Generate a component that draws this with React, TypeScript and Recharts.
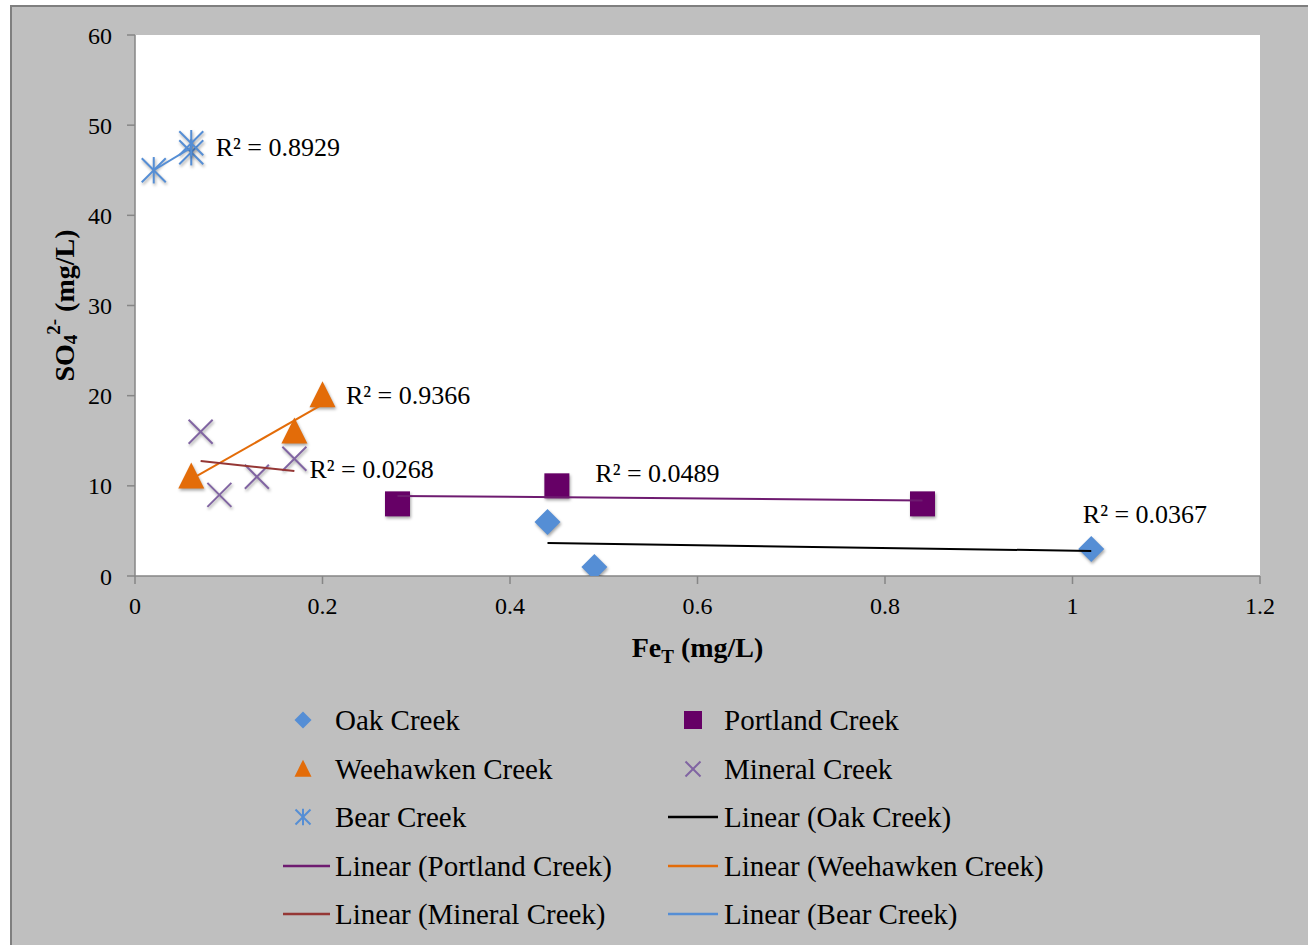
import React from 'react';
import { ScatterChart, Scatter, XAxis, YAxis, CartesianGrid, Legend, Label } from 'recharts';

// Total iron vs. sulfate, one series per creek
const oakFe = [0.44, 0.49, 1.02];
const oakSO4 = [6, 1, 3];
const portlandFe = [0.28, 0.45, 0.84];
const portlandSO4 = [8, 10, 8];
const weehawkenFe = [0.06, 0.17, 0.2];
const weehawkenSO4 = [11, 16, 20];
const mineralFe = [0.07, 0.09, 0.13, 0.17];
const mineralSO4 = [16, 9, 11, 13];
const bearFe = [0.02, 0.06, 0.06];
const bearSO4 = [45, 47, 48];

const creekNames = ['Oak Creek', 'Portland Creek', 'Weehawken Creek', 'Mineral Creek', 'Bear Creek'];

const xTicks = [0, 0.2, 0.4, 0.6, 0.8, 1, 1.2];
const yTicks = [0, 10, 20, 30, 40, 50, 60];

// Where each R² annotation sits, in axis units (Oak, Portland, Weehawken, Mineral, Bear)
const r2AtFe = [1.011, 0.491, 0.225, 0.186, 0.086];
const r2AtSO4 = [6.8, 11.4, 20, 11.8, 47.5];

const FONT = "'Liberation Serif', 'Times New Roman', serif";

type MarkerKind = 'diamond' | 'square' | 'triangle' | 'cross' | 'star';

const styles: { marker: MarkerKind; color: string; trend: string }[] = [
  { marker: 'diamond', color: '#558ED5', trend: '#000000' },
  { marker: 'square', color: '#660066', trend: '#6E1B70' },
  { marker: 'triangle', color: '#E36C09', trend: '#E36C09' },
  { marker: 'cross', color: '#8064A2', trend: '#953735' },
  { marker: 'star', color: '#558ED5', trend: '#558ED5' },
];

const toPoints = (xs: number[], ys: number[]) => xs.map((x, i) => ({ x, y: ys[i] }));

function rSquared(xs: number[], ys: number[]) {
  const n = xs.length;
  const mx = xs.reduce((a, b) => a + b, 0) / n;
  const my = ys.reduce((a, b) => a + b, 0) / n;
  let sxy = 0, sxx = 0, syy = 0;
  for (let i = 0; i < n; i++) {
    sxy += (xs[i] - mx) * (ys[i] - my);
    sxx += (xs[i] - mx) ** 2;
    syy += (ys[i] - my) ** 2;
  }
  return (sxy * sxy) / (sxx * syy);
}

const series = [
  { fe: oakFe, so4: oakSO4 },
  { fe: portlandFe, so4: portlandSO4 },
  { fe: weehawkenFe, so4: weehawkenSO4 },
  { fe: mineralFe, so4: mineralSO4 },
  { fe: bearFe, so4: bearSO4 },
].map((s, i) => ({
  name: creekNames[i],
  points: toPoints(s.fe, s.so4),
  r2: rSquared(s.fe, s.so4),
  labelAt: [{ x: r2AtFe[i], y: r2AtSO4[i] }],
  ...styles[i],
}));

const shadow = { filter: 'drop-shadow(1.5px 2px 1.5px rgba(0,0,0,0.35))' };

function drawMarker(kind: MarkerKind, cx: number, cy: number, s: number, color: string, withShadow = true) {
  const st = withShadow ? shadow : undefined;
  const h = s / 2;
  switch (kind) {
    case 'diamond':
      return <polygon style={st} points={`${cx},${cy - h} ${cx + h},${cy} ${cx},${cy + h} ${cx - h},${cy}`} fill={color} />;
    case 'square':
      return <rect style={st} x={cx - h} y={cy - h} width={s} height={s} fill={color} />;
    case 'triangle':
      return <polygon style={st} points={`${cx},${cy - h * 1.1} ${cx + h},${cy + h * 0.9} ${cx - h},${cy + h * 0.9}`} fill={color} />;
    case 'cross':
      return (
        <g style={st} stroke={color} strokeWidth={2}>
          <line x1={cx - h} y1={cy - h} x2={cx + h} y2={cy + h} />
          <line x1={cx - h} y1={cy + h} x2={cx + h} y2={cy - h} />
        </g>
      );
    case 'star':
      return (
        <g style={st} stroke={color} strokeWidth={2}>
          <line x1={cx - h} y1={cy - h} x2={cx + h} y2={cy + h} />
          <line x1={cx - h} y1={cy + h} x2={cx + h} y2={cy - h} />
          <line x1={cx} y1={cy - h * 1.1} x2={cx} y2={cy + h * 1.1} />
        </g>
      );
  }
}

const chartSizes: Record<MarkerKind, number> = { diamond: 26, square: 25, triangle: 26, cross: 24, star: 24 };
const legendSizes: Record<MarkerKind, number> = { diamond: 17, square: 18, triangle: 17, cross: 15, star: 15 };

const WIDTH = 1296;
const HEIGHT = 938;

function YTitle(props: any) {
  const vb = props.viewBox || { x: 0, y: 0, width: 0, height: 0 };
  const cx = vb.x + 52;
  const cy = vb.y + vb.height / 2;
  return (
    <text
      x={cx}
      y={cy}
      transform={`rotate(-90, ${cx}, ${cy})`}
      textAnchor="middle"
      dominantBaseline="central"
      fontFamily={FONT}
      fontWeight="bold"
      fontSize={28}
      fill="#000"
    >
      SO<tspan dy={6} fontSize={19}>4</tspan>
      <tspan dy={-17} fontSize={19}>2-</tspan>
      <tspan dy={11}> (mg/L)</tspan>
    </text>
  );
}

function XTitle(props: any) {
  const vb = props.viewBox || { x: 0, y: 0, width: 0, height: 0 };
  const cx = vb.x + vb.width / 2;
  const base = vb.y + 81;
  return (
    <text x={cx} y={base} textAnchor="middle" fontFamily={FONT} fontWeight="bold" fontSize={28} fill="#000">
      Fe<tspan dy={6} fontSize={19}>T</tspan>
      <tspan dy={-6}> (mg/L)</tspan>
    </text>
  );
}

const legendItems = [
  ...series.map((s) => ({ label: s.name, kind: s.marker as MarkerKind | null, color: s.color })),
  ...series.map((s) => ({ label: `Linear (${s.name})`, kind: null as MarkerKind | null, color: s.trend })),
];

const LEGEND_TOP = 683;
const ROW0 = 30;
const ROW_STEP = 48.5;
const COL_ICON = [291, 681];
const COL_TEXT = [323, 712];
const COL_LINE = [[271, 318], [656, 706]];

function LegendBlock() {
  return (
    <div style={{ position: 'relative', width: WIDTH, height: 250, fontFamily: FONT, fontSize: 29, color: '#000' }}>
      {legendItems.map((item, i) => {
        const col = i % 2;
        const row = Math.floor(i / 2);
        const cy = ROW0 + row * ROW_STEP;
        return (
          <div key={item.label} style={{ position: 'absolute', left: 0, top: cy - 20, height: 40, width: WIDTH }}>
            <svg width={WIDTH} height={40} style={{ position: 'absolute', left: 0, top: 0, overflow: 'visible' }}>
              {item.kind
                ? drawMarker(item.kind, COL_ICON[col], 20, legendSizes[item.kind], item.color, false)
                : <line x1={COL_LINE[col][0]} x2={COL_LINE[col][1]} y1={20} y2={20} stroke={item.color} strokeWidth={2.5} />}
            </svg>
            <div style={{ position: 'absolute', left: COL_TEXT[col], top: 0, height: 40, lineHeight: '40px', whiteSpace: 'nowrap' }}>
              {item.label}
            </div>
          </div>
        );
      })}
    </div>
  );
}

const fmtX = (v: number) => String(Number(v.toFixed(1)));

export default function App() {
  return (
    <div
      style={{
        position: 'absolute',
        left: 10,
        top: 5,
        width: WIDTH + 10,
        height: HEIGHT + 10,
        background: '#BFBFBF',
        borderLeft: '2px solid #7F7F7F',
        borderTop: '2px solid #7F7F7F',
      }}
    >
      <ScatterChart width={WIDTH} height={HEIGHT} margin={{ top: 28, right: 48, left: 0, bottom: 279 }}>
        <CartesianGrid fill="#FFFFFF" horizontal={false} vertical={false} />
        <XAxis
          type="number"
          dataKey="x"
          domain={[0, 1.2]}
          ticks={xTicks}
          tickFormatter={fmtX}
          height={90}
          tickSize={8}
          tickMargin={13}
          axisLine={{ stroke: '#868686', strokeWidth: 1.5 }}
          tickLine={{ stroke: '#868686', strokeWidth: 1.5 }}
          tick={{ fontFamily: FONT, fontSize: 24, fill: '#000' }}
          allowDataOverflow
        >
          <Label content={XTitle} />
        </XAxis>
        <YAxis
          type="number"
          dataKey="y"
          domain={[0, 60]}
          ticks={yTicks}
          width={123}
          tickSize={8}
          tickMargin={15}
          axisLine={{ stroke: '#868686', strokeWidth: 1.5 }}
          tickLine={{ stroke: '#868686', strokeWidth: 1.5 }}
          tick={{ fontFamily: FONT, fontSize: 24, fill: '#000' }}
          allowDataOverflow
        >
          <Label content={YTitle} />
        </YAxis>
        <Legend
          verticalAlign="middle"
          align="center"
          layout="horizontal"
          wrapperStyle={{ left: 0, top: LEGEND_TOP, width: WIDTH, height: 250 }}
          content={() => <LegendBlock />}
        />
        {series.map((s) => (
          <Scatter
            key={s.name}
            name={s.name}
            data={s.points}
            isAnimationActive={false}
            shape={(p: any) => drawMarker(s.marker, p.cx, p.cy, chartSizes[s.marker], s.color)}
          />
        ))}
        {series.map((s) => (
          <Scatter
            key={`trend-${s.name}`}
            name={`Linear (${s.name})`}
            data={s.points}
            isAnimationActive={false}
            line={{ stroke: s.trend, strokeWidth: 2 }}
            lineType="fitting"
            shape={() => <g />}
          />
        ))}
        {series.map((s) => (
          <Scatter
            key={`r2-${s.name}`}
            data={s.labelAt}
            isAnimationActive={false}
            shape={(p: any) => (
              <text
                x={p.cx}
                y={p.cy}
                textAnchor="start"
                dominantBaseline="central"
                fontFamily={FONT}
                fontSize={26}
                fill="#000"
              >
                {`R² = ${s.r2.toFixed(4)}`}
              </text>
            )}
          />
        ))}
      </ScatterChart>
    </div>
  );
}
